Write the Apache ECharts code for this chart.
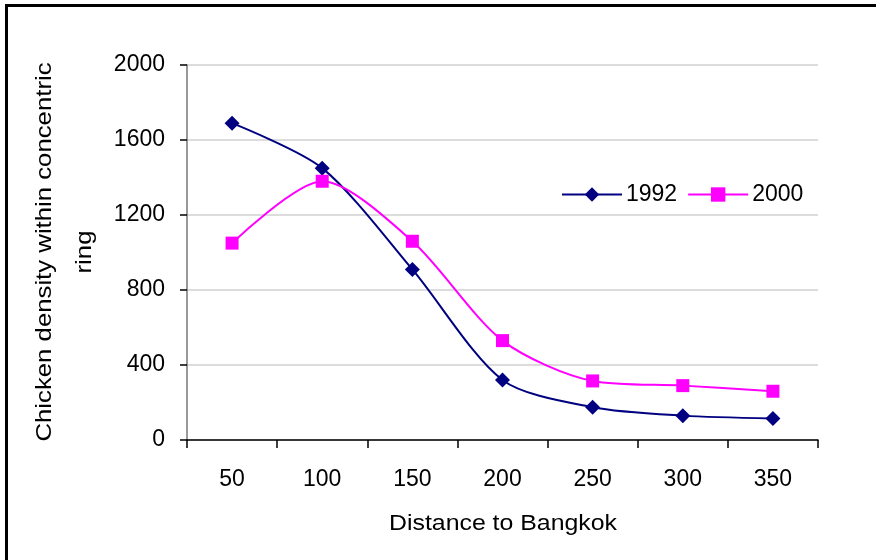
<!DOCTYPE html>
<html>
<head>
<meta charset="utf-8">
<script src="https://cdn.jsdelivr.net/npm/echarts@6/dist/echarts.min.js"></script>
<style>
  html, body { margin: 0; padding: 0; background: #fff; }
  #chart { width: 876px; height: 560px; }
</style>
</head>
<body>
<div id="chart"></div>
<script>
// Distance rings around Bangkok (km)
const distances = ['50', '100', '150', '200', '250', '300', '350'];
// Chicken density per concentric ring
const density1992 = [1690, 1450, 910, 320, 175, 130, 115];
const density2000 = [1050, 1380, 1060, 530, 315, 290, 260];
// Value axis ticks
const yMin = 0, yMax = 2000, yStep = 400;

const FONT = 'Liberation Sans, Arial, sans-serif';
const TICK_SIZE = 23;

const chart = echarts.init(document.getElementById('chart'), null, { renderer: 'canvas' });

chart.setOption({
  backgroundColor: '#ffffff',
  animation: false,
  graphic: [
    {
      type: 'rect',
      shape: { x: 6.5, y: 5.5, width: 900, height: 600 },
      style: { fill: 'none', stroke: '#000', lineWidth: 3 },
      silent: true
    },
    {
      type: 'text',
      x: 65, y: 252,
      rotation: Math.PI / 2,
      scaleX: 1.17,
      style: {
        text: 'Chicken density within concentric\nring',
        font: '22px ' + FONT,
        fill: '#000',
        align: 'center',
        verticalAlign: 'middle',
        lineHeight: 40
      }
    },
    {
      type: 'text',
      x: 503, y: 524,
      scaleX: 1.13,
      style: {
        text: 'Distance to Bangkok',
        font: '22px ' + FONT,
        fill: '#000',
        align: 'center',
        verticalAlign: 'middle'
      }
    }
  ],
  grid: { left: 187, right: 58, top: 65, bottom: 120, containLabel: false },
  legend: {
    left: 556,
    top: 178,
    itemWidth: 60,
    itemHeight: 18,
    itemGap: 10,
    textStyle: { fontFamily: FONT, fontSize: TICK_SIZE, color: '#000', padding: [0, 0, 0, -1] },
    data: ['1992', '2000']
  },
  xAxis: {
    type: 'category',
    data: distances,
    boundaryGap: true,
    axisLine: { lineStyle: { color: '#000', width: 1.5 } },
    axisTick: { show: true, length: 8, alignWithLabel: false, lineStyle: { color: '#000', width: 1.5 } },
    axisLabel: { margin: 28, fontFamily: FONT, fontSize: TICK_SIZE, color: '#000' },
    splitLine: { show: false }
  },
  yAxis: {
    type: 'value',
    min: yMin, max: yMax, interval: yStep,
    axisLine: { show: true, lineStyle: { color: '#777', width: 1.5 } },
    axisTick: { show: true, length: 7, lineStyle: { color: '#000', width: 1.5 } },
    axisLabel: {
      margin: 22, fontFamily: FONT, fontSize: TICK_SIZE, color: '#000',
      formatter: v => String(v)
    },
    splitLine: { show: true, lineStyle: { color: '#d0d0d0', width: 1.5 } }
  },
  series: [
    {
      name: '1992',
      type: 'line',
      data: density1992,
      smooth: 0.28,
      symbol: 'diamond',
      symbolSize: 15,
      itemStyle: { color: '#000080' },
      lineStyle: { color: '#000080', width: 2 }
    },
    {
      name: '2000',
      type: 'line',
      data: density2000,
      smooth: 0.28,
      symbol: 'rect',
      symbolSize: 13,
      itemStyle: { color: '#ff00ff' },
      lineStyle: { color: '#ff00ff', width: 2 }
    }
  ]
});
</script>
</body>
</html>
